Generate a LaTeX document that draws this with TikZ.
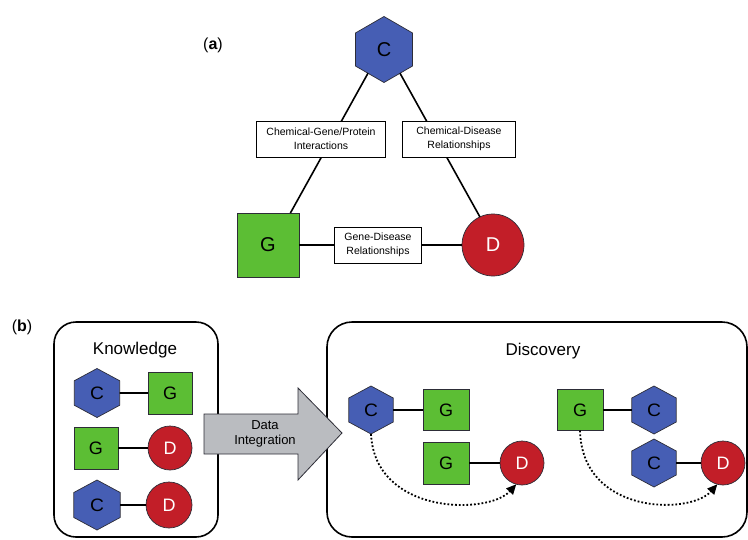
\documentclass[tikz,border=0pt]{standalone}
\usepackage{fontspec}
\setmainfont{Liberation Sans}
\usetikzlibrary{shapes.geometric,arrows.meta}
\definecolor{hexblue}{RGB}{70,94,180}
\definecolor{sqgreen}{RGB}{92,190,52}
\definecolor{cired}{RGB}{194,30,40}
\definecolor{arrgray}{RGB}{186,188,192}
\definecolor{edgegray}{RGB}{45,45,55}
\tikzset{
  chem/.style={regular polygon, regular polygon sides=6, shape border rotate=30,
    draw=edgegray, line width=0.7pt, fill=hexblue, inner sep=0pt, outer sep=0pt,
    text=black},
  widehex/.style={xscale=1.07, transform shape},
  gene/.style={rectangle, draw=edgegray, line width=0.7pt, fill=sqgreen,
    inner sep=0pt, outer sep=0pt, text=black},
  dis/.style={circle, draw=edgegray, line width=0.7pt, fill=cired,
    inner sep=0pt, outer sep=0pt, text=white},
  bigtxt/.style={font=\fontsize{20}{24}\selectfont},
  smalltxt/.style={font=\fontsize{18}{22}\selectfont},
  link/.style={line width=1.6pt, draw=black},
  relbox/.style={rectangle, draw=black, line width=1pt, fill=white,
    minimum height=36pt, inner sep=0pt, align=center,
    font=\fontsize{10.5}{14}\selectfont},
  panel/.style={rectangle, draw=black, line width=1.6pt, rounded corners=22pt,
    inner sep=0pt},
  paneltitle/.style={font=\fontsize{17}{20}\selectfont},
  tag/.style={font=\fontsize{16}{19}\selectfont},
  dotarrow/.style={dotted, line width=1.8pt,
    -{Triangle[length=10pt,width=9pt]}},
}
\begin{document}
\begin{tikzpicture}[x=1pt,y=-1pt]
\useasboundingbox (0,0) rectangle (748,539);

% ---------- (a) ----------
\node[tag] (taga) at (213,45) {({\bfseries a})};
\node[chem, bigtxt, minimum size=66pt] (C) at (384,49.5) {C};
\node[gene, bigtxt, minimum width=62pt, minimum height=64pt] (G) at (268,245) {G};
\node[dis, bigtxt, minimum size=62pt] (D) at (493,245) {D};
\draw[link] (C.236) -- (G.55);
\draw[link] (C.304) -- (D.115);
\draw[link] (G) -- (D);
\node[relbox, minimum width=129pt] (cg) at (321,139) {Chemical-Gene/Protein\\Interactions};
\node[relbox, minimum width=113pt] (cd) at (459,139) {Chemical-Disease\\Relationships};
\node[relbox, minimum width=87pt] (gd) at (378,245) {Gene-Disease\\Relationships};

% ---------- (b) ----------
\node[tag] (tagb) at (22,327) {({\bfseries b})};
\node[panel, minimum width=164pt, minimum height=215pt] (kbox) at (136,429.5) {};
\node[paneltitle] (ktitle) at (135,350) {Knowledge};
\node[panel, minimum width=420pt, minimum height=215pt, rounded corners=25pt] (dbox) at (537,429.5) {};
\node[paneltitle] (dtitle) at (543,351) {Discovery};

% Knowledge rows
\node[chem, widehex, smalltxt, minimum size=49pt] (kc1) at (97,393) {C};
\node[gene, smalltxt, minimum width=44pt, minimum height=42pt] (kg1) at (170,393) {G};
\draw[link] (kc1) -- (kg1);
\node[gene, smalltxt, minimum width=44pt, minimum height=42pt] (kg2) at (96,448) {G};
\node[dis, smalltxt, minimum size=44pt] (kd2) at (170,448) {D};
\draw[link] (kg2) -- (kd2);
\node[chem, widehex, smalltxt, minimum size=50pt] (kc3) at (97,505) {C};
\node[dis, smalltxt, minimum size=46pt] (kd3) at (169,505) {D};
\draw[link] (kc3) -- (kd3);

% Data integration arrow
\draw[fill=arrgray, draw=edgegray, line width=0.8pt]
  (204,414) -- (298,414) -- (298,388) -- (342,433) -- (298,480) -- (298,454) -- (204,454) -- cycle;
\node[align=center, font=\fontsize{13}{15}\selectfont] (di) at (265,434) {Data\\Integration};

% Discovery group 1
\node[chem, widehex, smalltxt, minimum size=48pt] (dc1) at (371,410) {C};
\node[gene, smalltxt, minimum width=46pt, minimum height=41pt] (dg1) at (446,410) {G};
\node[gene, smalltxt, minimum width=46pt, minimum height=42pt] (dg2) at (446,463) {G};
\node[dis, smalltxt, minimum size=44pt] (dd1) at (522,463) {D};
\draw[link] (dc1) -- (dg1);
\draw[link] (dg2) -- (dd1);
\draw[dotarrow] (dc1.south) .. controls (375,515) and (488,515) .. (dd1.255);

% Discovery group 2
\node[gene, smalltxt, minimum width=46pt, minimum height=41pt] (dg3) at (580,410) {G};
\node[chem, widehex, smalltxt, minimum size=48pt] (dc2) at (654,410) {C};
\node[chem, widehex, smalltxt, minimum size=48pt] (dc3) at (654,463) {C};
\node[dis, smalltxt, minimum size=44pt] (dd2) at (723,463) {D};
\draw[link] (dg3) -- (dc2);
\draw[link] (dc3) -- (dd2);
\draw[dotarrow] (dg3.south) .. controls (582,515) and (690,515) .. (dd2.255);
\end{tikzpicture}
\end{document}
